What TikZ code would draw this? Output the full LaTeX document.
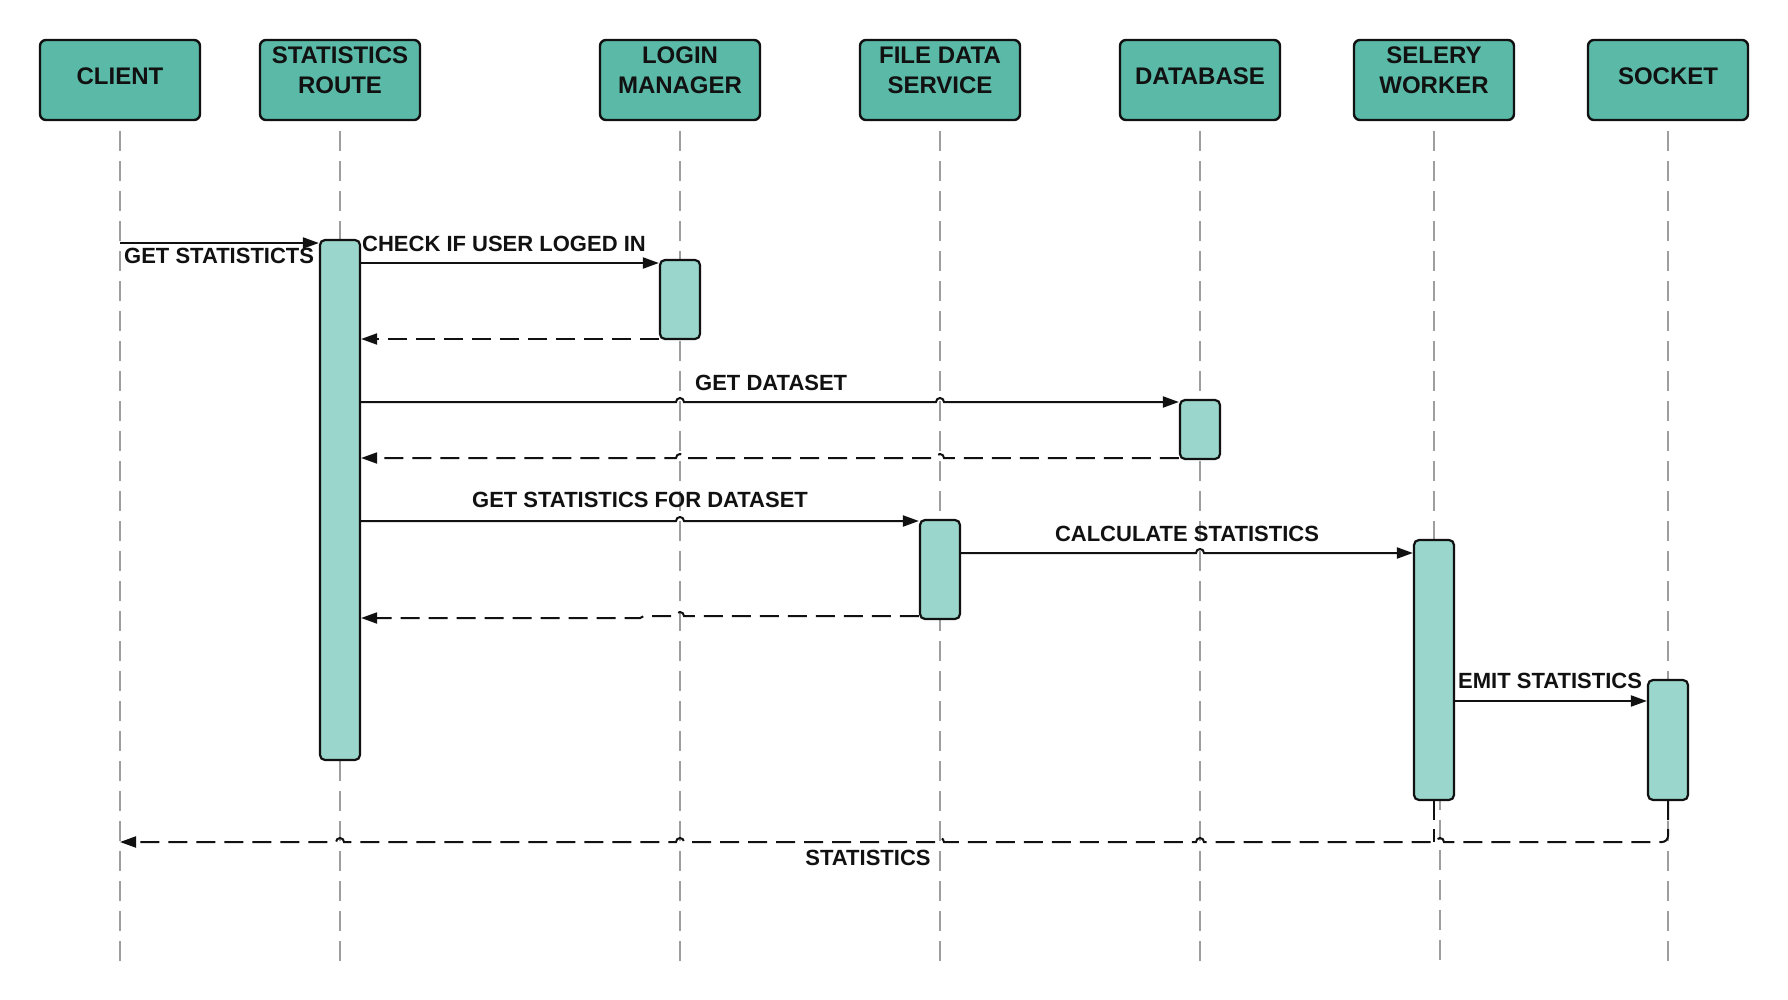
\documentclass[tikz,border=0pt]{standalone}
\usepackage{fontspec}
\setmainfont{Liberation Sans}
\usetikzlibrary{arrows.meta}
\definecolor{headfill}{HTML}{5BB9A7}
\definecolor{actfill}{HTML}{9AD6CC}
\definecolor{lifegray}{HTML}{9E9E9E}
\definecolor{ink}{HTML}{111111}
\tikzset{
  head/.style={draw=ink, line width=2.4pt, fill=headfill, rounded corners=6pt, minimum width=160pt, minimum height=80pt, inner sep=0pt},
  headtxt/.style={font=\fontsize{24}{30}\selectfont\bfseries, text=ink, inner sep=0pt, anchor=base},
  act/.style={draw=ink, line width=2.2pt, fill=actfill, rounded corners=5pt, minimum width=40pt, inner sep=0pt},
  life/.style={draw=lifegray, line width=2pt, dash pattern=on 20pt off 10pt, dash phase=20pt},
  msg/.style={draw=ink, line width=2pt, -{Triangle[length=16pt,width=11pt]}},
  ret/.style={msg, dash pattern=on 19pt off 9pt},
  retplain/.style={draw=ink, line width=2pt, dash pattern=on 19pt off 9pt},
  lbl/.style={font=\fontsize{22}{26}\selectfont\bfseries, text=ink, inner sep=0pt},
}
\begin{document}
\begin{tikzpicture}[x=1pt,y=-1pt]
\useasboundingbox[fill=white] (0,0) rectangle (1788,1000);

% message levels
\coordinate (m1) at (0,243);
\coordinate (m2) at (0,263);
\coordinate (m3) at (0,339);
\coordinate (m4) at (0,402);
\coordinate (m5) at (0,458);
\coordinate (m6) at (0,521);
\coordinate (m7) at (0,553);
\coordinate (m8) at (0,616);
\coordinate (m8b) at (0,618);
\coordinate (m9) at (0,701);
\coordinate (m10) at (0,842);
\coordinate (bot) at (0,961);
\coordinate (selLow) at (1440,800);

% header nodes
\node[head] (client) at (120,80) {};
\node[head] (route)  at (340,80) {};
\node[head] (login)  at (680,80) {};
\node[head] (file)   at (940,80) {};
\node[head] (db)     at (1200,80) {};
\node[head] (selery) at (1434,80) {};
\node[head] (socket) at (1668,80) {};

\node[headtxt] (clientT)  at (120,85) {CLIENT};
\node[headtxt] (routeT1)  at (340,64) {STATISTICS};
\node[headtxt] (routeT2)  at (340,94) {ROUTE};
\node[headtxt] (loginT1)  at (680,64) {LOGIN};
\node[headtxt] (loginT2)  at (680,94) {MANAGER};
\node[headtxt] (fileT1)   at (940,64) {FILE DATA};
\node[headtxt] (fileT2)   at (940,94) {SERVICE};
\node[headtxt] (dbT)      at (1200,85) {DATABASE};
\node[headtxt] (seleryT1) at (1434,64) {SELERY};
\node[headtxt] (seleryT2) at (1434,94) {WORKER};
\node[headtxt] (socketT)  at (1668,85) {SOCKET};

% lifelines
\draw[life] (client.south) -- (client.south |- bot);
\draw[life] (route.south) -- (route.south |- bot);
\draw[life] (login.south) -- (login.south |- bot);
\draw[life] (file.south) -- (file.south |- bot);
\draw[life] (db.south) -- (db.south |- bot);
\draw[life] (selery.south) -- (selery.south |- selLow);
\draw[life, dash phase=10pt] (selLow) -- (selLow |- bot);
\draw[life] (socket.south) -- (socket.south |- bot);

% activations
\node[act, minimum height=520pt] (actR) at (340,500) {};
\node[act, minimum height=79pt]  (actL) at (680,299.5) {};
\node[act, minimum height=59pt]  (actD) at (1200,429.5) {};
\node[act, minimum height=99pt]  (actF) at (940,569.5) {};
\node[act, minimum height=260pt] (actS) at (1434,670) {};
\node[act, minimum height=120pt] (actK) at (1668,740) {};

% 1 GET STATISTICTS
\draw[msg] (client.south |- m1) -- (actR.west |- m1);
\node[lbl, anchor=base west] (l1) at (124,264) {GET STATISTICTS};

% 2 CHECK IF USER LOGED IN
\draw[msg] (actR.east |- m2) -- (actL.west |- m2);
\node[lbl, anchor=base west] (l2) at (362,252) {CHECK IF USER LOGED IN};

% 3 return from login
\draw[ret] (actL.west |- m3) -- (actR.east |- m3);

% 4 GET DATASET
\draw[msg] (actR.east |- m4) -- (676,402) arc[start angle=180,end angle=360,radius=4]
  -- (936,402) arc[start angle=180,end angle=360,radius=4] -- (actD.west |- m4);
\node[lbl, anchor=base west] (l4) at (695,390) {GET DATASET};

% 5 return from database
\draw[ret] (actD.west |- m5) -- (944,458) arc[start angle=0,end angle=-180,radius=4]
  -- (684,458) arc[start angle=0,end angle=-180,radius=4] -- (actR.east |- m5);

% 6 GET STATISTICS FOR DATASET
\draw[msg] (actR.east |- m6) -- (676,521) arc[start angle=180,end angle=360,radius=4] -- (actF.west |- m6);
\node[lbl, anchor=base] (l6) at (640,507) {GET STATISTICS FOR DATASET};

% 7 CALCULATE STATISTICS
\draw[msg] (actF.east |- m7) -- (1196,553) arc[start angle=180,end angle=360,radius=4] -- (actS.west |- m7);
\node[lbl, anchor=base] (l7) at (1187,541) {CALCULATE STATISTICS};

% 8 return from file data service
\draw[ret] (actF.west |- m8) -- (684,616) arc[start angle=0,end angle=-180,radius=4]
  -- (644,616) -- (640,618) -- (actR.east |- m8b);

% 9 EMIT STATISTICS
\draw[msg] (actS.east |- m9) -- (actK.west |- m9);
\node[lbl, anchor=base west] (l9) at (1458,688) {EMIT STATISTICS};

% 10 STATISTICS back to client
\draw[ret] (actK.south) -- (1668,836) arc[start angle=0,end angle=90,radius=6]
  -- (1444,842) arc[start angle=0,end angle=-180,radius=4]
  -- (1204,842) arc[start angle=0,end angle=-180,radius=4]
  -- (944,842) arc[start angle=0,end angle=-180,radius=4]
  -- (684,842) arc[start angle=0,end angle=-180,radius=4]
  -- (344,842) arc[start angle=0,end angle=-180,radius=4]
  -- (client.south |- m10);
\draw[retplain] (actS.south) -- (actS.south |- m10);
\node[lbl, anchor=base] (l10) at (868,865) {STATISTICS};
\end{tikzpicture}
\end{document}
